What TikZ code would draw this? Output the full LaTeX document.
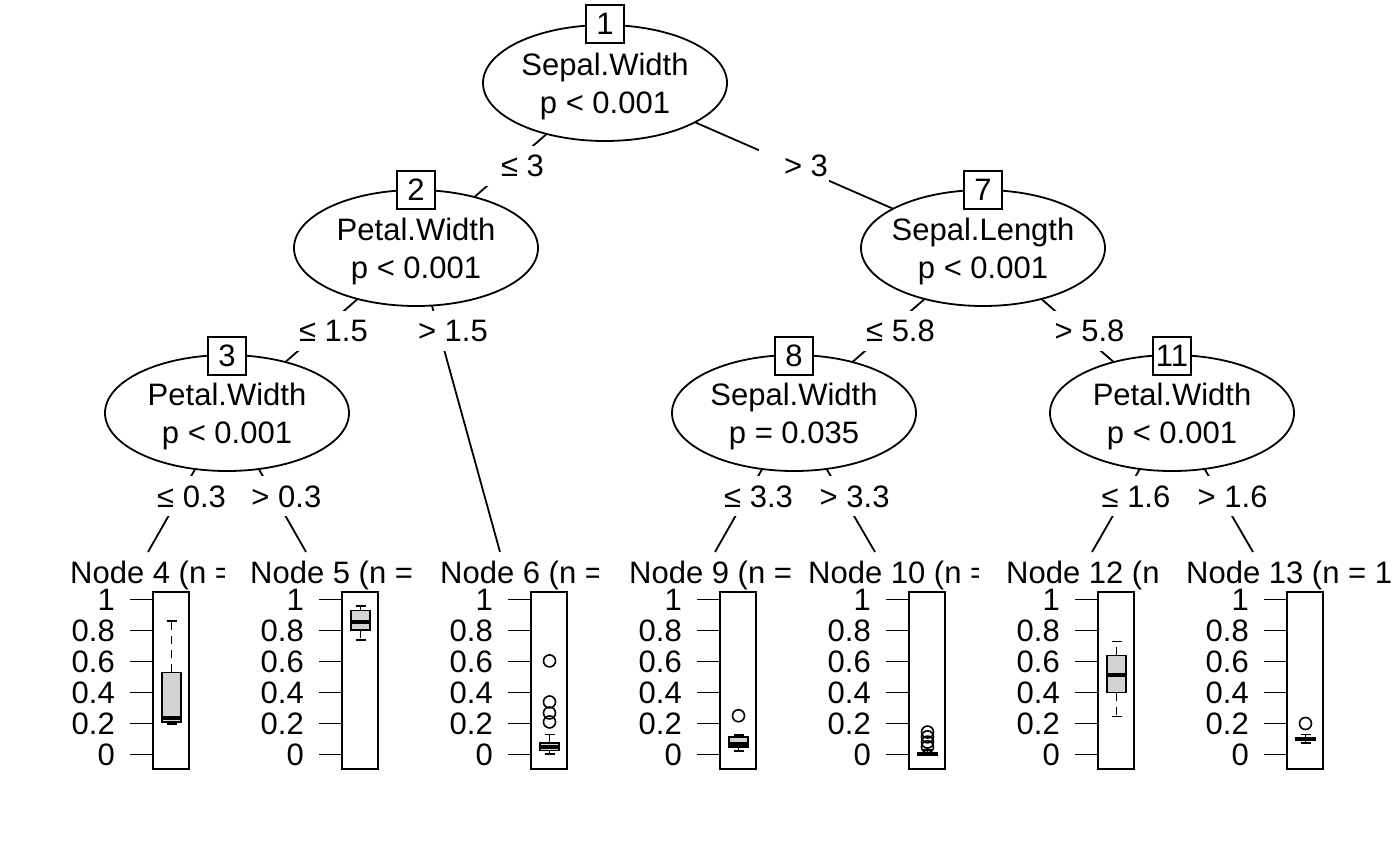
\documentclass[tikz,border=0pt]{standalone}
\usepackage{fontspec}
\setmainfont{Liberation Sans}
\usetikzlibrary{shapes.geometric}
\pgfdeclarelayer{bg}
\pgfsetlayers{bg,main}
\definecolor{boxgray}{HTML}{D3D3D3}
\tikzset{
  every node/.style={font=\fontsize{31}{37}\selectfont},
  innernode/.style={ellipse, draw, fill=white, line width=1.8pt, minimum width=244pt, minimum height=116pt, inner sep=0pt},
  idbox/.style={draw, fill=white, line width=1.8pt, minimum width=38pt, minimum height=38pt, inner sep=2pt},
  txt/.style={anchor=base, inner sep=0pt},
  conn/.style={line width=1.8pt},
  elab/.style={fill=white, inner xsep=1pt, inner ysep=0pt, minimum height=40pt},
  frm/.style={draw, line width=1.8pt},
  tickln/.style={line width=1.8pt},
  ticklab/.style={anchor=east, inner sep=0pt},
  ttl/.style={anchor=base west, inner sep=0pt},
  bxbox/.style={draw, fill=boxgray, line width=1.6pt},
  bxmed/.style={line width=4pt},
  bxwhisk/.style={line width=1.6pt, dash pattern=on 8pt off 6pt},
  bxcap/.style={line width=1.6pt},
  outl/.style={line width=1.6pt},
}
\newcommand\Yv[1]{754.5-155*(#1)}
% frame left, name
\newcommand\termpanel[2]{%
  \draw[frm] (#1,592) rectangle ({#1+36},769);
  \foreach \v [count=\i] in {0,0.2,0.4,0.6,0.8,1}{
    \draw[tickln] ({#1-23},{\Yv{\v}}) -- (#1,{\Yv{\v}});
    \node[ticklab] (tk#2-\i) at ({#1-38},{\Yv{\v}}) {\v};
  }%
}
% cx, lo, q1, med, q3, hi
\newcommand\bxp[6]{%
  \draw[bxwhisk] (#1,{\Yv{#5}}) -- (#1,{\Yv{#6}});
  \draw[bxwhisk] (#1,{\Yv{#3}}) -- (#1,{\Yv{#2}});
  \draw[bxcap] ({#1-5},{\Yv{#6}}) -- ({#1+5},{\Yv{#6}});
  \draw[bxcap] ({#1-5},{\Yv{#2}}) -- ({#1+5},{\Yv{#2}});
  \draw[bxbox] ({#1-9.5},{\Yv{#3}}) rectangle ({#1+9.5},{\Yv{#5}});
  \draw[bxmed] ({#1-10.5},{\Yv{#4}}) -- ({#1+10.5},{\Yv{#4}});
}
\newcommand\outp[2]{\draw[outl] (#1,{\Yv{#2}}) circle[radius=6pt];}
\begin{document}
\begin{tikzpicture}[x=1pt, y=-1pt]
\useasboundingbox (0,0) rectangle (1400,865);

% inner nodes
\node[innernode] (n1) at (605,83) {};
\node[innernode] (n2) at (416,248) {};
\node[innernode] (n7) at (983,248) {};
\node[innernode] (n3) at (227,413) {};
\node[innernode] (n8) at (794,413) {};
\node[innernode] (n11) at (1172,413) {};

\node[txt] (n1a) at (605,75) {Sepal.Width};
\node[txt] (n1b) at (605,113) {p < 0.001};
\node[txt] (n2a) at (416,240) {Petal.Width};
\node[txt] (n2b) at (416,278) {p < 0.001};
\node[txt] (n7a) at (983,240) {Sepal.Length};
\node[txt] (n7b) at (983,278) {p < 0.001};
\node[txt] (n3a) at (227,405) {Petal.Width};
\node[txt] (n3b) at (227,443) {p < 0.001};
\node[txt] (n8a) at (794,405) {Sepal.Width};
\node[txt] (n8b) at (794,443) {p = 0.035};
\node[txt] (n11a) at (1172,405) {Petal.Width};
\node[txt] (n11b) at (1172,443) {p < 0.001};

\node[idbox] (b1) at (605,24) {1};
\node[idbox] (b2) at (416,190) {2};
\node[idbox] (b7) at (983,190) {7};
\node[idbox] (b3) at (227,356) {3};
\node[idbox] (b8) at (794,356) {8};
\node[idbox] (b11) at (1172,356) {11};

% terminal edge ends
\coordinate (t4) at (148,552);
\coordinate (t5) at (306,552);
\coordinate (t6) at (500,552);
\coordinate (t9) at (715,552);
\coordinate (t10) at (875,552);
\coordinate (t12) at (1092,552);
\coordinate (t13) at (1253,552);

\begin{pgfonlayer}{bg}
\draw[conn] (n1.center) -- node[elab, pos=0.5] (e12) {\hspace*{24pt}≤ 3} (n2.center);
\draw[conn] (n1.center) -- node[elab, pos=0.5] (e17) {\hspace*{24pt}> 3} (n7.center);
\draw[conn] (n2.center) -- node[elab, pos=0.5] (e23) {\hspace*{24pt}≤ 1.5} (n3.center);
\draw[conn] (n2.center) -- node[elab, pos=0.273] (e26) {\hspace*{28pt}> 1.5} (t6);
\draw[conn] (n7.center) -- node[elab, pos=0.5] (e78) {\hspace*{24pt}≤ 5.8} (n8.center);
\draw[conn] (n7.center) -- node[elab, pos=0.5] (e711) {\hspace*{24pt}> 5.8} (n11.center);
\draw[conn] (n3.center) -- node[elab, pos=0.6] (e34) {\hspace*{24pt}≤ 0.3} (t4);
\draw[conn] (n3.center) -- node[elab, pos=0.6] (e35) {\hspace*{24pt}> 0.3} (t5);
\draw[conn] (n8.center) -- node[elab, pos=0.6] (e89) {\hspace*{24pt}≤ 3.3} (t9);
\draw[conn] (n8.center) -- node[elab, pos=0.6] (e810) {\hspace*{24pt}> 3.3} (t10);
\draw[conn] (n11.center) -- node[elab, pos=0.6] (e1112) {\hspace*{24pt}≤ 1.6} (t12);
\draw[conn] (n11.center) -- node[elab, pos=0.6] (e1113) {\hspace*{24pt}> 1.6} (t13);
\end{pgfonlayer}

% terminal titles (clipped)
\begin{scope}\clip (0,540) rectangle (224,600);
\node[ttl] (ttl4) at (70,583) {Node 4 (n =};\end{scope}
\begin{scope}\clip (230,540) rectangle (425,600);
\node[ttl] (ttl5) at (250,583) {Node 5 (n =};\end{scope}
\begin{scope}\clip (430,540) rectangle (598,600);
\node[ttl] (ttl6) at (440,583) {Node 6 (n =};\end{scope}
\begin{scope}\clip (600,540) rectangle (802,600);
\node[ttl] (ttl9) at (629,583) {Node 9 (n =};\end{scope}
\begin{scope}\clip (804,540) rectangle (978,600);
\node[ttl] (ttl10) at (808,583) {Node 10 (n =};\end{scope}
\begin{scope}\clip (990,540) rectangle (1166,600);
\node[ttl] (ttl12) at (1006,583) {Node 12 (n};\end{scope}
\begin{scope}\clip (1170,540) rectangle (1400,600);
\node[ttl] (ttl13) at (1186,583) {Node 13 (n = 1};\end{scope}

% panels
\termpanel{153}{p4}
\termpanel{342}{p5}
\termpanel{531}{p6}
\termpanel{720}{p9}
\termpanel{909}{p10}
\termpanel{1098}{p12}
\termpanel{1287}{p13}

% boxplots
\bxp{171.5}{0.197}{0.21}{0.237}{0.53}{0.86}
\bxp{360.5}{0.74}{0.805}{0.855}{0.93}{0.96}
\bxp{549.5}{0.005}{0.025}{0.05}{0.075}{0.13}
\outp{549.5}{0.604}\outp{549.5}{0.339}\outp{549.5}{0.268}\outp{549.5}{0.21}
\bxp{738.5}{0.023}{0.05}{0.07}{0.113}{0.125}
\outp{738.5}{0.25}
\bxp{927.5}{0.0}{0.0}{0.005}{0.012}{0.03}
\outp{927.5}{0.145}\outp{927.5}{0.114}\outp{927.5}{0.08}\outp{927.5}{0.05}
\bxp{1116.5}{0.245}{0.40}{0.515}{0.64}{0.73}
\bxp{1305.5}{0.075}{0.095}{0.1}{0.11}{0.13}
\outp{1305.5}{0.2}
\end{tikzpicture}
\end{document}
